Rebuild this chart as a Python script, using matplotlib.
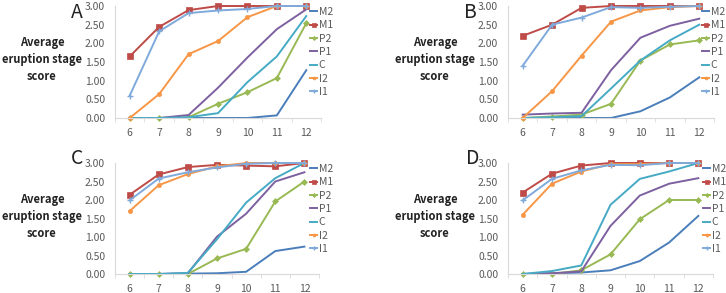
import numpy as np
import matplotlib
matplotlib.use('Agg')
import matplotlib.pyplot as plt

plt.rcParams['font.family'] = ['Noto Sans CJK KR', 'DejaVu Sans']

# 数据
ages = ['6', '7', '8', '9', '10', '11', '12']
series = ['M2', 'M1', 'P2', 'P1', 'C', 'I2', 'I1']

A_M2 = [0, 0, 0, 0, 0, 0.07, 1.28]
A_M1 = [1.65, 2.44, 2.89, 3.0, 3.0, 3.0, 3.0]
A_P2 = [0, 0, 0.02, 0.38, 0.69, 1.07, 2.54]
A_P1 = [0, 0, 0.08, 0.81, 1.62, 2.38, 2.91]
A_C = [0, 0, 0.02, 0.13, 0.96, 1.65, 2.73]
A_I2 = [0, 0.64, 1.71, 2.06, 2.70, 3.0, 3.0]
A_I1 = [0.60, 2.32, 2.81, 2.88, 2.92, 3.0, 3.0]

B_M2 = [0, 0, 0, 0, 0.18, 0.55, 1.09]
B_M1 = [2.20, 2.50, 2.95, 3.0, 3.0, 3.0, 3.0]
B_P2 = [0, 0.04, 0.09, 0.38, 1.54, 1.97, 2.08]
B_P1 = [0.09, 0.12, 0.14, 1.28, 2.15, 2.47, 2.66]
B_C = [0, 0.02, 0.05, 0.79, 1.54, 2.08, 2.50]
B_I2 = [0, 0.72, 1.67, 2.58, 2.88, 2.97, 3.0]
B_I1 = [1.40, 2.50, 2.69, 2.97, 2.95, 2.98, 3.0]

C_M2 = [0, 0, 0.01, 0.02, 0.06, 0.62, 0.74]
C_M1 = [2.14, 2.69, 2.89, 2.95, 2.93, 2.91, 3.0]
C_P2 = [0, 0, 0, 0.42, 0.68, 1.96, 2.50]
C_P1 = [0, 0, 0.02, 1.01, 1.63, 2.50, 2.75]
C_C = [0, 0, 0.03, 0.94, 1.93, 2.59, 3.0]
C_I2 = [1.70, 2.40, 2.70, 2.91, 3.0, 3.0, 3.0]
C_I1 = [1.99, 2.58, 2.75, 2.88, 2.98, 3.0, 3.0]

D_M2 = [0, 0.02, 0.04, 0.10, 0.35, 0.85, 1.57]
D_M1 = [2.20, 2.71, 2.93, 3.0, 3.0, 3.0, 3.0]
D_P2 = [0, 0, 0.10, 0.53, 1.48, 2.0, 2.0]
D_P1 = [0, 0.02, 0.07, 1.30, 2.12, 2.44, 2.59]
D_C = [0, 0.08, 0.23, 1.87, 2.57, 2.77, 3.0]
D_I2 = [1.60, 2.44, 2.77, 2.97, 2.97, 3.0, 3.0]
D_I1 = [1.99, 2.57, 2.80, 2.95, 2.94, 3.0, 3.0]

panels = {
    'A': [A_M2, A_M1, A_P2, A_P1, A_C, A_I2, A_I1],
    'B': [B_M2, B_M1, B_P2, B_P1, B_C, B_I2, B_I1],
    'C': [C_M2, C_M1, C_P2, C_P1, C_C, C_I2, C_I1],
    'D': [D_M2, D_M1, D_P2, D_P1, D_C, D_I2, D_I1],
}

colors = ['#4a7ebb', '#be4b48', '#98b954', '#7d60a0', '#46aac5', '#f79646', '#7faadb']
markers = [None, 's', 'D', None, None, 'o', '+']
msizes = [0, 4, 3, 0, 0, 3, 4]

W, H = 726, 293
fig = plt.figure(figsize=(W / 100, H / 100), dpi=100)

# 像素位置 (left, top, right, bottom)
boxes = {
    'A': (115, 6, 321, 118),
    'B': (508, 6, 714, 118),
    'C': (115, 163, 319, 274),
    'D': (508, 163, 713, 274),
}
label_pos = {'A': (77, 13), 'B': (470, 13), 'C': (77, 158), 'D': (473, 158)}
legend_pos = {'A': (310, 7), 'B': (702, 7), 'C': (310, 164), 'D': (703, 164)}

grey = '#595959'
spine_c = '#d9d9d9'
x = np.arange(len(ages))

for key, data in panels.items():
    l, t, r, b = boxes[key]
    ax = fig.add_axes([l / W, 1 - b / H, (r - l) / W, (b - t) / H])
    for vals, name, c, m, ms in zip(data, series, colors, markers, msizes):
        ax.plot(x, vals, color=c, lw=1.4, marker=m, ms=ms, mew=1.0 if m == '+' else 0.5,
                label=name, clip_on=False)
    ax.set_xlim(-0.5, len(ages) - 0.5)
    ax.set_ylim(0, 3)
    ax.set_yticks(np.arange(0, 3.01, 0.5))
    ax.set_yticklabels([f'{v:.2f}' for v in np.arange(0, 3.01, 0.5)])
    ax.set_xticks(x)
    ax.set_xticklabels(ages)
    ax.set_xticks(np.arange(-0.5, len(ages), 1), minor=True)
    ax.tick_params(axis='x', which='major', length=0, pad=7, labelsize=7.5, labelcolor=grey)
    ax.tick_params(axis='x', which='minor', length=3, color=spine_c)
    ax.tick_params(axis='y', length=0, pad=7, labelsize=7.5, labelcolor=grey)
    for s in ['top', 'right']:
        ax.spines[s].set_visible(False)
    for s in ['left', 'bottom']:
        ax.spines[s].set_color(spine_c)
    ax.patch.set_alpha(0)

    fig.text((l - 73) / W, 1 - ((t + b) / 2 - 2) / H, 'Average\neruption stage\nscore',
             ha='center', va='center', fontsize=8.0, fontweight='bold', linespacing=1.4, color='#222222')
    lx, ly = label_pos[key]
    fig.text(lx / W, 1 - ly / H, key, ha='center', va='center', fontsize=14, color='#222222')

    px, py = legend_pos[key]
    leg = ax.legend(loc='upper left', bbox_to_anchor=(px / W, 1 - py / H),
                    bbox_transform=fig.transFigure, frameon=False, fontsize=7.5,
                    handlelength=0.7, handletextpad=0.15, labelspacing=0.32,
                    borderpad=0, borderaxespad=0, markerscale=0.7)
    for txt in leg.get_texts():
        txt.set_color(grey)

fig.savefig('out.png', dpi=100)
